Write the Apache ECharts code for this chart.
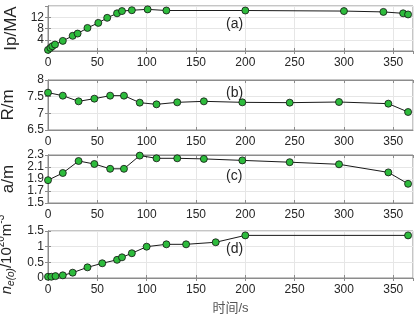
<!DOCTYPE html>
<html>
<head>
<meta charset="utf-8">
<script src="https://cdn.jsdelivr.net/npm/echarts@6/dist/echarts.min.js"></script>
<style>
  html, body { margin: 0; padding: 0; background: #fff; }
  #chart { width: 416px; height: 314px; }
</style>
</head>
<body>
<div id="chart"></div>
<script>
// (a) plasma current
const tIp = [0, 2.4, 4.4, 7.1, 15, 25, 30, 40, 51, 60, 70, 75, 85, 101, 120, 200, 300, 340, 360, 365];
const ip = [0.4, 1.1, 1.7, 2.3, 3.6, 5.4, 6.2, 8.2, 10, 11.8, 13.4, 14.2, 14.5, 14.8, 14.4, 14.4, 14.2, 13.9, 13.4, 13.0];
// (b) major radius and (c) minor radius share time points
const tRa = [0, 15, 31, 47, 63, 77, 93, 110, 131, 158, 197, 245, 295, 345, 365];
const rMajor = [7.62, 7.53, 7.36, 7.44, 7.53, 7.53, 7.32, 7.27, 7.33, 7.36, 7.33, 7.32, 7.34, 7.29, 7.04];
const aMinor = [1.88, 2.0, 2.2, 2.15, 2.07, 2.07, 2.29, 2.245, 2.245, 2.235, 2.21, 2.18, 2.145, 2.01, 1.82];
// (d) central density
const tNe = [0, 3.4, 7.6, 15, 25, 40, 55, 70, 75, 85, 100, 120, 140, 170, 200, 365];
const ne = [0.04, 0.04, 0.06, 0.085, 0.17, 0.34, 0.47, 0.58, 0.66, 0.79, 1.0, 1.075, 1.075, 1.14, 1.36, 1.36];

const panelTags = ['(a)', '(b)', '(c)', '(d)'];
const yRanges = [[0, 16, 4], [6.5, 8, 0.5], [1.5, 2.3, 0.2], [0, 1.5, 0.5]];
const xRange = [0, 370, 50];

const font = "'Liberation Sans', Arial, 'Noto Sans CJK SC', sans-serif";
const textColor = '#262626';
const boxColor = '#8c8c8c';
const gridTops = [6, 80, 155, 231];
const gridHeights = [45, 50, 48, 47];
const tagTops = [17, 86, 169, 242];

const yNames = [
  'Ip/MA',
  'R/m',
  'a/m',
  '{n|n}{s|e(o)}{m|/10}{p|20}{m|m}{p|-3}'
];
const yNameRich = {
  n: { fontSize: 15, fontStyle: 'italic', fontFamily: font, color: textColor, verticalAlign: 'middle', lineHeight: 20 },
  s: { fontSize: 10, fontStyle: 'italic', fontFamily: font, color: textColor, verticalAlign: 'bottom', lineHeight: 10 },
  m: { fontSize: 15, fontFamily: font, color: textColor, verticalAlign: 'middle', lineHeight: 20 },
  p: { fontSize: 10, fontFamily: font, color: textColor, verticalAlign: 'top', lineHeight: 10 }
};

const seriesData = [
  tIp.map((t, i) => [t, ip[i]]),
  tRa.map((t, i) => [t, rMajor[i]]),
  tRa.map((t, i) => [t, aMinor[i]]),
  tNe.map((t, i) => [t, ne[i]])
];

const grids = [], xAxes = [], yAxes = [], series = [], titles = [];
for (let i = 0; i < 4; i++) {
  grids.push({
    left: 48, right: 3, top: gridTops[i], height: gridHeights[i],
    containLabel: false, outerBoundsMode: 'none',
    show: true, borderColor: boxColor, borderWidth: 1, backgroundColor: 'transparent'
  });
  const xBase = {
    gridIndex: i, type: 'value', min: xRange[0], max: xRange[1], interval: xRange[2],
    axisLine: { show: true, lineStyle: { color: boxColor } },
    axisTick: { show: true, inside: true, length: 3, lineStyle: { color: boxColor } }
  };
  xAxes.push(Object.assign({}, xBase, {
    position: 'bottom',
    axisLabel: { color: textColor, fontSize: 12, fontFamily: font, margin: 6, showMaxLabel: false, hideOverlap: false },
    splitLine: { show: true, lineStyle: { color: '#e6e6e6', width: 1 } },
    name: i === 3 ? '时间/s' : '',
    nameLocation: 'middle', nameGap: 24,
    nameTextStyle: { color: '#555', fontSize: 13, fontFamily: font }
  }));
  xAxes.push(Object.assign({}, xBase, {
    position: 'top', axisLabel: { show: false }, splitLine: { show: false }
  }));
  const [ymin, ymax, yint] = yRanges[i];
  const yBase = {
    gridIndex: i, type: 'value', min: ymin, max: ymax, interval: yint,
    axisLine: { show: true, lineStyle: { color: boxColor } },
    axisTick: { show: true, inside: true, length: 3, lineStyle: { color: boxColor } }
  };
  yAxes.push(Object.assign({}, yBase, {
    position: 'left',
    axisLabel: {
      color: textColor, fontSize: 12, lineHeight: 9, fontFamily: font, margin: 4,
      hideOverlap: false
    },
    splitLine: { show: true, lineStyle: { color: '#e6e6e6', width: 1 } },
    name: yNames[i], nameLocation: 'middle', nameRotate: 90,
    nameGap: i === 3 ? 24 : 22,
    nameTextStyle: { color: textColor, fontSize: 17, fontFamily: font, rich: yNameRich }
  }));
  yAxes.push(Object.assign({}, yBase, {
    position: 'right', axisLabel: { show: false }, splitLine: { show: false }
  }));
  series.push({
    type: 'line', xAxisIndex: i * 2, yAxisIndex: i * 2,
    data: seriesData[i],
    symbol: 'circle', symbolSize: 7, showAllSymbol: true,
    lineStyle: { color: '#1a1a1a', width: 1 },
    itemStyle: { color: '#2dbb3c', borderColor: '#111', borderWidth: 0.8 },
    animation: false
  });
  titles.push({
    text: panelTags[i], left: 226, top: tagTops[i], padding: 0,
    textStyle: { color: textColor, fontSize: 14, fontWeight: 'normal', fontFamily: font }
  });
}

const chart = echarts.init(document.getElementById('chart'), null, { renderer: 'canvas' });
chart.setOption({
  backgroundColor: '#fff',
  animation: false,
  title: titles,
  grid: grids,
  xAxis: xAxes,
  yAxis: yAxes,
  series: series
});
</script>
</body>
</html>
